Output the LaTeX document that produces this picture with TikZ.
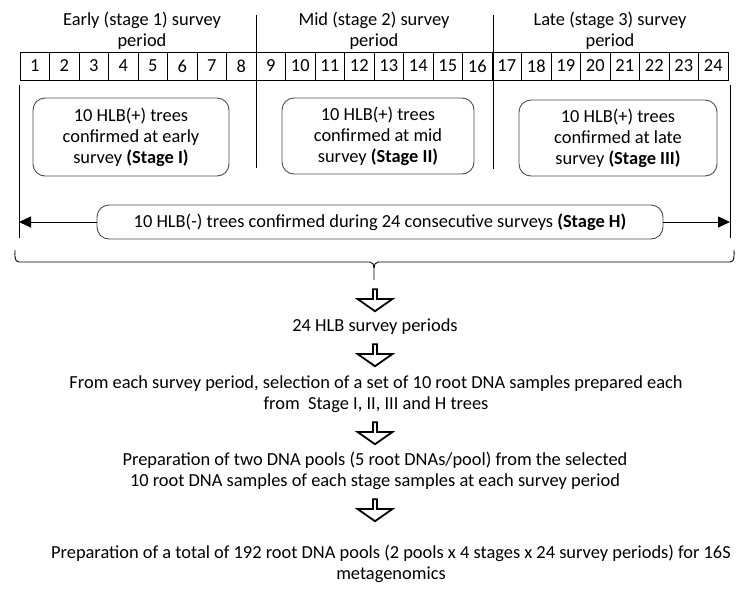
\documentclass[tikz,border=0pt]{standalone}
\usepackage{fontspec}
\setmainfont{Carlito}
\usetikzlibrary{shapes.arrows,arrows.meta}
\tikzset{>={Triangle[length=12pt,width=11pt]}}
\tikzset{
  cell/.style={draw,minimum width=29.5pt,minimum height=28pt,inner sep=0pt},
  stagebox/.style={draw=black!70,rounded corners=12pt,align=center,inner sep=0pt},
  hollow/.style={draw,line width=1.8pt,single arrow,shape border rotate=270,minimum height=22pt,minimum width=35pt,single arrow head extend=7pt,single arrow head indent=0pt,single arrow tip angle=110,inner sep=0pt},
  txt/.style={align=center,inner sep=0pt}
}

\begin{document}
\begin{tikzpicture}[x=1pt,y=-1pt,line width=0.9pt,font=\fontsize{18.4}{21}\selectfont]
  \useasboundingbox (0,0) rectangle (752,603);
  % survey periods
  \foreach \i in {1,...,24}
    \node[cell] (c\i) at ({20+(\i-0.5)*29.5},66) {\i};
  \node[txt] (p1) at (142,31) {Early (stage 1) survey\\period};
  \node[txt] (p2) at (374,31) {Mid (stage 2) survey\\period};
  \node[txt] (p3) at (610,31) {Late (stage 3) survey\\period};
  \draw (256,15) -- (256,168);
  \draw (493,15) -- (493,169);
  % HLB(+) trees
  \node[stagebox,minimum width=196pt,minimum height=78pt] (s1) at (131,137) {10 HLB(+) trees\\confirmed at early\\survey \textbf{(Stage I)}};
  \node[stagebox,minimum width=192pt,minimum height=76pt] (s2) at (378,136) {10 HLB(+) trees\\confirmed at mid\\survey \textbf{(Stage II)}};
  \node[stagebox,minimum width=198pt,minimum height=76pt] (s3) at (618,138) {10 HLB(+) trees\\confirmed at late\\survey \textbf{(Stage III)}};
  % HLB(-) trees over all surveys
  \draw (19,85) -- (19,238);
  \draw (730,85) -- (730,238);
  \coordinate (lft) at (19,222);
  \coordinate (rgt) at (730,222);
  \node[stagebox,minimum width=566pt,minimum height=34pt] (sh) at (380,222) {10 HLB(-) trees confirmed during 24 consecutive surveys \textbf{(Stage H)}};
  \draw[->] (sh) -- (lft);
  \draw[->] (sh) -- (rgt);
  % brace
  \draw (15,250) to[out=270,in=180] (19,262) -- (370,262) to[out=0,in=90] (374,268) -- (374,280);
  \draw (734,250) to[out=270,in=0] (730,262) -- (378,262) to[out=180,in=90] (374,268);
  % steps
  \node[hollow] (a1) at (375,299.5) {};
  \node[txt] (t1) at (375,327) {24 HLB survey periods};
  \node[hollow] (a2) at (375,354.5) {};
  \node[txt] (t2) at (376,394.5) {From each survey period, selection of a set of 10 root DNA samples prepared each\\from\ \ Stage I, II, III and H trees};
  \node[hollow] (a3) at (375,432.5) {};
  \node[txt] (t3) at (375,470.5) {Preparation of two DNA pools (5 root DNAs/pool) from the selected\\10 root DNA samples of each stage samples at each survey period};
  \node[hollow] (a4) at (375,509.5) {};
  \node[txt] (t4) at (391,564) {Preparation of a total of 192 root DNA pools (2 pools x 4 stages x 24 survey periods) for 16S\\metagenomics};
\end{tikzpicture}
\end{document}
